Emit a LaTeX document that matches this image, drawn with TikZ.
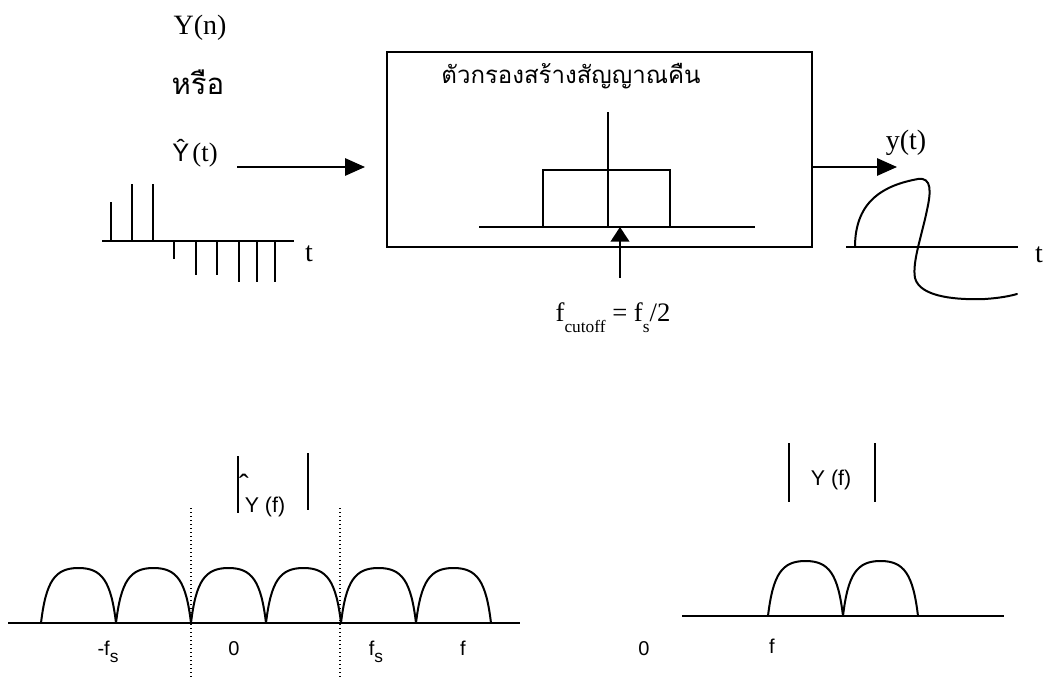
\documentclass[tikz,border=0pt]{standalone}
\usepackage{fontspec}
\setmainfont{Liberation Serif}
\setsansfont{Liberation Sans}
\newfontfamily\thaifont[Script=Thai]{Loma}
\usetikzlibrary{arrows.meta, fit, positioning}
\newcommand{\lowsub}[1]{\raisebox{-0.38em}{\fontsize{13}{13}\selectfont #1}}

\begin{document}
\begin{tikzpicture}[x=0.75pt, y=-0.75pt,
  ln/.style={line width=1.5pt},
  sig/.style={line width=1.5pt, line cap=round, line join=round},
  arr/.style={line width=1.5pt, -{Triangle[length=15pt, width=13pt]}},
  arrup/.style={line width=1.5pt, -{Triangle[length=11pt, width=14pt]}},
  fsline/.style={dotted, line width=1pt},
  txt/.style={font=\fontsize{21}{24}\selectfont, inner sep=0pt},
  sflbl/.style={font=\sffamily\fontsize{15}{18}\selectfont, inner sep=0pt},
  thlbl/.style={font=\thaifont\fontsize{18}{20}\selectfont, inner sep=0pt},
  bump/.pic={\draw[sig] (0,0) .. controls (5,-42) and (14,-55) .. (37.5,-55)
                               .. controls (61,-55) and (70,-42) .. (75,0);}
]
  \useasboundingbox (0,0) rectangle (1043,677);

  % ── sampled input ───────────────────────────────────────────────────────
  \node[txt]   (yn)  at (200,28) {Y(n)};
  \node[thlbl, font=\thaifont\fontsize{22}{24}\selectfont] (or) at (198,82) {หรือ};
  \node[inner sep=0pt, anchor=base west] (yhat) at (172,162)
    {{\sffamily\fontsize{19}{20}\selectfont Ŷ} {\fontsize{20}{20}\selectfont (t)}};
  \coordinate (in0) at (102,241);
  \coordinate (in1) at (294,241);
  \draw[ln] (in0) -- (in1);
  \node[txt] (tin) at (309,254) {t};
  \foreach \x/\h in {111/202, 132/184, 153/184, 174/259, 196/275,
                     217/275, 239/282, 257/282, 275/282}
    \draw[ln] (\x,241) -- (\x,\h);
  \coordinate (a0) at (237,167);
  \coordinate (a1) at (365,167);
  \draw[arr] (a0) -- (a1);

  % ── reconstruction filter ───────────────────────────────────────────────
  \node[draw, ln, fit={(387,52) (812,247)}, inner sep=0pt] (filt) {};
  \node[thlbl] (title) at (571,76) {ตัวกรองสร้างสัญญาณคืน};
  \coordinate (h0) at (608,227);
  \draw[ln] (479,227) -- (755,227);
  \draw[ln] (h0) -- (608,112);
  \draw[ln] (543,227) -- (543,170) -- (670,170) -- (670,227);
  \coordinate (cut) at (620,278);
  \draw[arrup] (cut) -- (cut |- h0);
  \node[inner sep=0pt, anchor=base, font=\fontsize{20}{20}\selectfont] (fcut) at (613,322)
    {f\lowsub{cutoff} = f\lowsub{s}/2};

  % ── reconstructed output ────────────────────────────────────────────────
  \coordinate (yout) at (897,167);
  \draw[arr] (yout -| filt.east) -- (yout);
  \node[txt] (yt) at (906,143) {y(t)};
  \draw[ln] (846,247) -- (1018,247);
  \node[txt] (tout) at (1039,255) {t};
  \draw[sig] (855,247) .. controls (855,200) and (885,185) .. (918,179)
    .. controls (932,177) and (931,192) .. (927,210)
    .. controls (922,235) and (912,262) .. (915,278)
    .. controls (920,298) and (960,300) .. (985,299)
    .. controls (1000,298) and (1010,296) .. (1017,294);

  % ── spectrum of the samples ─────────────────────────────────────────────
  \draw[ln] (8,623) -- (520,623);
  \foreach \x in {41,116,191,266,341,416}
    \pic at (\x,623) {bump};
  \draw[fsline] (191,508) -- (191,677);
  \draw[fsline] (340,508) -- (340,677);
  \draw[ln] (238,456) -- (238,513);
  \draw[ln] (308,453) -- (308,510);
  \node[sflbl, anchor=base, font=\sffamily\fontsize{22}{22}\selectfont] (hatf) at (244,495) {ˆ};
  \node[sflbl, font=\sffamily\fontsize{16}{18}\selectfont] (yf1) at (265,507) {Y (f)};
  \node[sflbl, anchor=base] (mfs) at (108,655) {-f\lowsub{s}};
  \node[sflbl, anchor=base] (z1)  at (234,655) {0};
  \node[sflbl, anchor=base] (fs)  at (376,655) {f\lowsub{s}};
  \node[sflbl, anchor=base] (f1)  at (463,655) {f};

  % ── spectrum after the filter ───────────────────────────────────────────
  \draw[ln] (682,616) -- (1004,616);
  \foreach \x in {768,843}
    \pic at (\x,616) {bump};
  \draw[ln] (789,443) -- (789,502);
  \draw[ln] (875,443) -- (875,502);
  \node[sflbl, font=\sffamily\fontsize{16}{18}\selectfont] (yf2) at (831,480) {Y (f)};
  \node[sflbl, anchor=base] (z2) at (644,655) {0};
  \node[sflbl, anchor=base] (f2) at (772,653) {f};
\end{tikzpicture}
\end{document}
